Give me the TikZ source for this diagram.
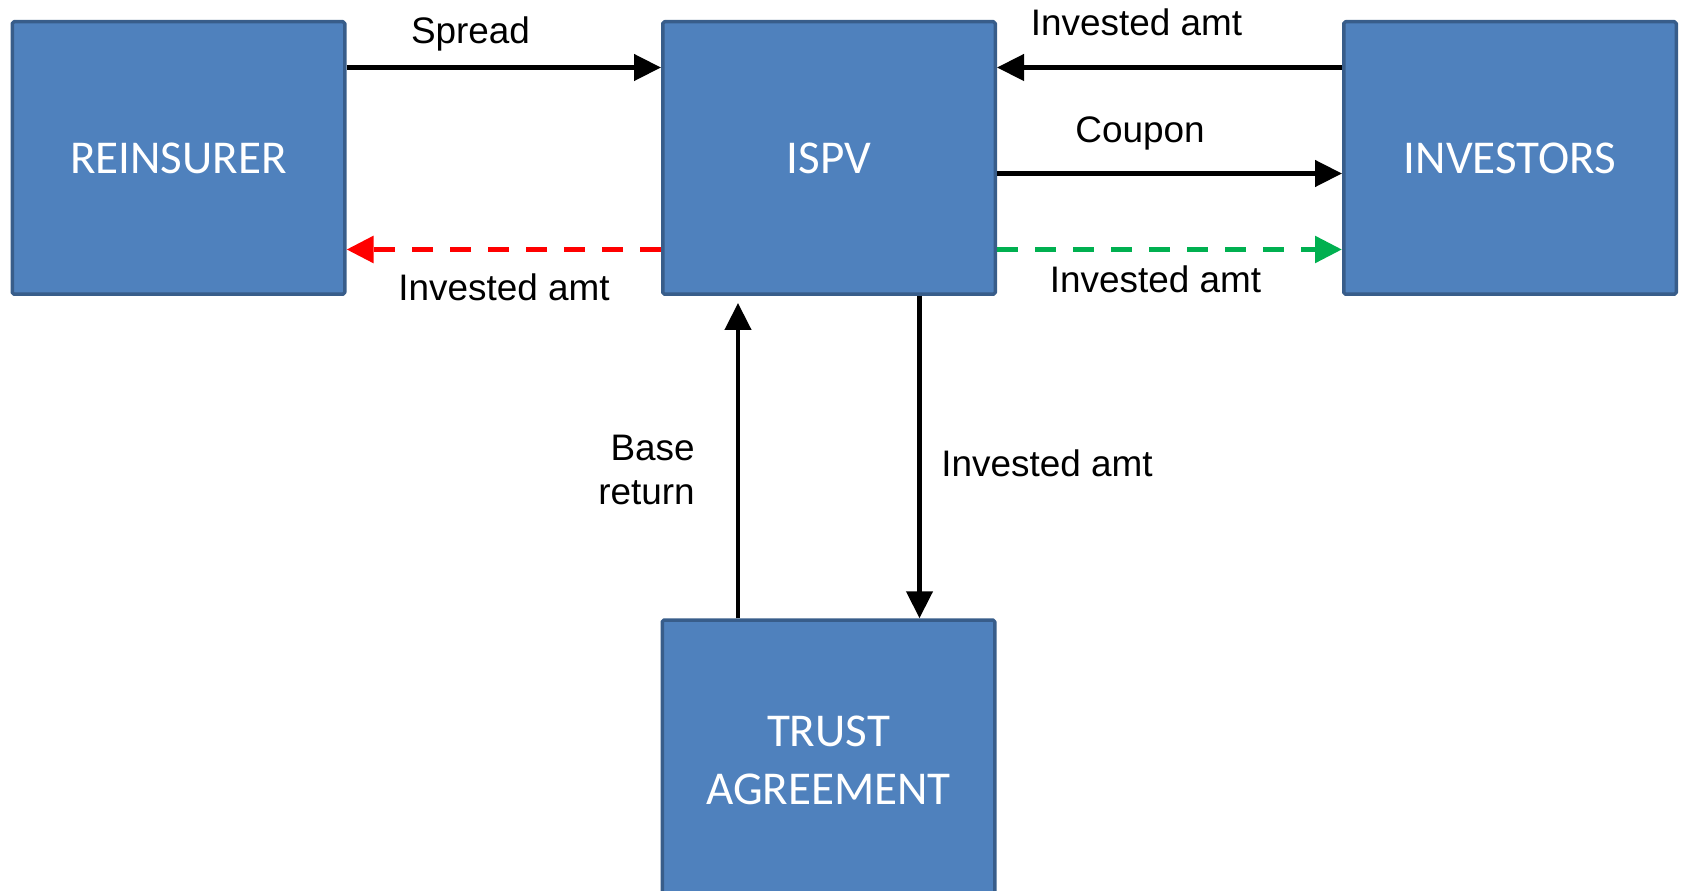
\documentclass[tikz,border=0pt]{standalone}
\usepackage{fontspec}
\setmainfont{Liberation Sans}
\newfontfamily\boxfont{Carlito}
\usetikzlibrary{arrows.meta,calc}
\definecolor{boxblue}{RGB}{79,129,189}
\definecolor{boxedge}{RGB}{56,93,138}
\definecolor{lossred}{RGB}{255,0,0}
\definecolor{gaingreen}{RGB}{0,176,80}

\begin{document}
\begin{tikzpicture}[line join=round,
 box/.style={draw=boxedge,fill=boxblue,line width=.07cm,rounded corners=1pt,inner sep=0pt,
  minimum width=6.65cm,minimum height=5.45cm,text=white,align=center,
  font=\boxfont\fontsize{26.8}{33}\selectfont},
 flow/.style={line width=.09cm,-{Triangle[length=.54cm,width=.52cm]}},
 dashflow/.style={flow,line width=.11cm,dash pattern=on .42cm off .34cm},
 lbl/.style={font=\fontsize{21}{25}\selectfont,inner sep=0pt}]
 \useasboundingbox (0,0) rectangle (33.62,17.8);
 % Boxes.
 \node[box] (rein) at (3.57,14.64) {REINSURER};
 \node[box] (ispv) at (16.58,14.64) {ISPV};
 \node[box] (inv) at (30.2,14.64) {INVESTORS};
 \node[box,minimum height=5.6cm] (trust) at (16.57,2.6) {TRUST\\AGREEMENT};
 % Rows and columns of the flows.
 \coordinate (r1) at (0,16.45);
 \coordinate (r2) at (0,14.33);
 \coordinate (r3) at (0,12.81);
 \coordinate (c1) at (14.76,0);
 \coordinate (c2) at (18.39,0);
 % Flows.
 \draw[flow] (rein.east |- r1) -- (ispv.west |- r1);
 \draw[flow] (inv.west |- r1) -- (ispv.east |- r1);
 \draw[flow] (ispv.east |- r2) -- (inv.west |- r2);
 \draw[dashflow,lossred] (ispv.west |- r3) -- (rein.east |- r3);
 \draw[dashflow,gaingreen] (ispv.east |- r3) -- (inv.west |- r3);
 \draw[flow,shorten >=.14cm] (trust.north -| c1) -- (ispv.south -| c1);
 \draw[flow] (ispv.south -| c2) -- (trust.north -| c2);
 % Labels.
 \node[lbl,anchor=base] (tspread) at (9.41,16.92) {Spread};
 \node[lbl,anchor=base] (tinvtop) at (22.73,17.08) {Invested amt};
 \node[lbl,anchor=base] (tcoupon) at (22.8,14.94) {Coupon};
 \node[lbl,anchor=base] (tinvgreen) at (23.11,11.95) {Invested amt};
 \node[lbl,anchor=base] (tinvred) at (10.08,11.78) {Invested amt};
 \node[lbl,anchor=base east,align=right] (tbase) at (13.9,7.72) {Base\\return};
 \node[lbl,anchor=base] (tinvdown) at (20.94,8.27) {Invested amt};
\end{tikzpicture}
\end{document}
